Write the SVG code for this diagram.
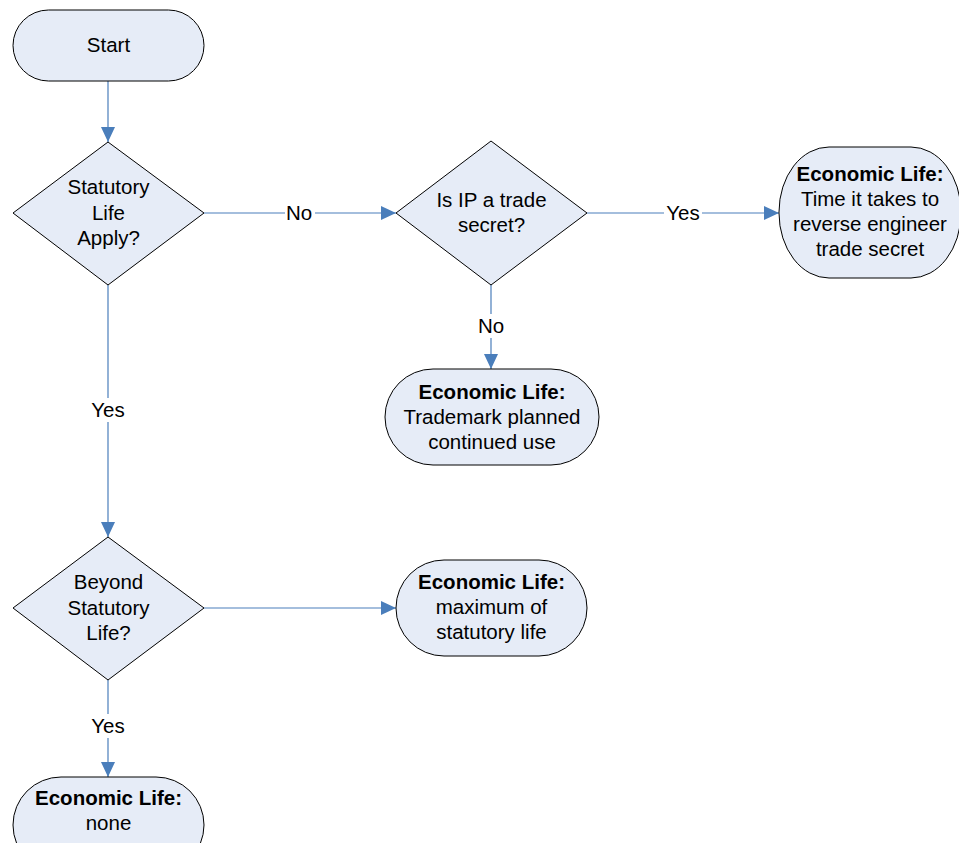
<svg xmlns="http://www.w3.org/2000/svg" width="959" height="843" viewBox="0 0 959 843">
<style>
.shape{fill:#e6ecf7;stroke:#000;stroke-width:1}
.t{font-family:"Liberation Sans",Arial,sans-serif;font-size:20.5px;fill:#000;text-anchor:middle}
.b{font-weight:bold}
.ln{stroke:#4a7ebb;stroke-width:1.2;fill:none}
.lbg{fill:#fff}
</style>
<defs>
<marker id="arr" markerUnits="userSpaceOnUse" markerWidth="15" markerHeight="14" refX="15" refY="7" orient="auto">
<path d="M0,0 L15,7 L0,14 z" fill="#4a7ebb"/>
</marker>
</defs>
<rect width="959" height="843" fill="#fff"/>
<g id="connectors">
<line class="ln" x1="108" y1="81" x2="108" y2="142" marker-end="url(#arr)"/>
<line class="ln" x1="204" y1="213" x2="396" y2="213" marker-end="url(#arr)"/>
<line class="ln" x1="587" y1="213" x2="779" y2="213" marker-end="url(#arr)"/>
<line class="ln" x1="491" y1="285" x2="491" y2="369" marker-end="url(#arr)"/>
<line class="ln" x1="108" y1="285" x2="108" y2="537" marker-end="url(#arr)"/>
<line class="ln" x1="204" y1="608" x2="396" y2="608" marker-end="url(#arr)"/>
<line class="ln" x1="108" y1="680" x2="108" y2="777" marker-end="url(#arr)"/>
<rect class="lbg" x="285" y="201" width="30" height="24"/>
<text class="t" x="299" y="220">No</text>
<rect class="lbg" x="664" y="201" width="38" height="24"/>
<text class="t" x="683" y="220">Yes</text>
<rect class="lbg" x="477" y="314" width="30" height="24"/>
<text class="t" x="491" y="333">No</text>
<rect class="lbg" x="89" y="398" width="38" height="24"/>
<text class="t" x="108" y="417">Yes</text>
<rect class="lbg" x="89" y="714" width="38" height="24"/>
<text class="t" x="108" y="733">Yes</text>
</g>
<g id="start">
<rect class="shape" x="13" y="10" width="191" height="71" rx="35.5" ry="35.5"/>
<text class="t" x="108.5" y="52">Start</text>
</g>
<g id="statutory-life">
<polygon class="shape" points="108,142 204,213 108,285 13,213"/>
<text class="t" x="108.5" y="194">Statutory</text>
<text class="t" x="108.5" y="220">Life</text>
<text class="t" x="108.5" y="245">Apply?</text>
</g>
<g id="trade-secret">
<polygon class="shape" points="491,141 587,213 491,285 396,213"/>
<text class="t" x="491.5" y="207">Is IP a trade</text>
<text class="t" x="491.5" y="232">secret?</text>
</g>
<g id="reverse-engineer">
<rect class="shape" x="779" y="147" width="182" height="131" rx="50" ry="65"/>
<text class="t b" x="870" y="181">Economic Life:</text>
<text class="t" x="870" y="206">Time it takes to</text>
<text class="t" x="870" y="231">reverse engineer</text>
<text class="t" x="870" y="256">trade secret</text>
</g>
<g id="trademark">
<rect class="shape" x="385" y="369" width="214" height="96" rx="48" ry="48"/>
<text class="t b" x="492" y="399">Economic Life:</text>
<text class="t" x="492" y="424">Trademark planned</text>
<text class="t" x="492" y="449">continued use</text>
</g>
<g id="beyond-statutory">
<polygon class="shape" points="108,537 204,608 108,680 13,608"/>
<text class="t" x="108.5" y="589">Beyond</text>
<text class="t" x="108.5" y="615">Statutory</text>
<text class="t" x="108.5" y="640">Life?</text>
</g>
<g id="maximum">
<rect class="shape" x="396" y="560" width="191" height="96" rx="48" ry="48"/>
<text class="t b" x="491.5" y="589">Economic Life:</text>
<text class="t" x="491.5" y="614">maximum of</text>
<text class="t" x="491.5" y="639">statutory life</text>
</g>
<g id="none">
<rect class="shape" x="13" y="777" width="191" height="96" rx="48" ry="48"/>
<text class="t b" x="108.5" y="805">Economic Life:</text>
<text class="t" x="108.5" y="830">none</text>
</g>
</svg>
